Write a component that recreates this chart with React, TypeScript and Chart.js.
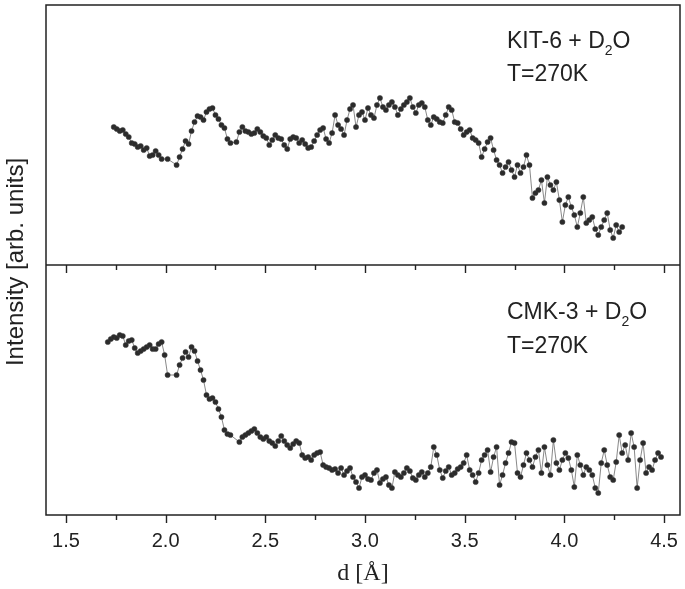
import React, { useEffect, useRef } from "react";
import { Chart, registerables } from "chart.js";

Chart.register(...registerables);

// x-axis: d [Å]
const X_MIN = 1.4;
const X_MAX = 4.58;
const X_TICK_STEP = 0.25;

// KIT-6 + D2O (top panel), sampled from d = 1.740 in steps of 0.015 Å
const KIT_START = 1.74;
const KIT_STEP = 0.015;
const kitValues: (number | null)[] = [
  138, 136, 134, 135, 131, 128, 122, 121, 118, 119,
  115, 117, 109, 110, 114, 110, 106, null, 106, null,
  null, 100, 108, 116, 124, 121, 134, 143, 149, 148,
  145, 153, 156, 157, 150, 146, 140, 137, 126, 122,
  null, 123, 133, 138, 134, 133, 131, 132, 136, 133,
  129, 127, 120, 125, 130, 127, 126, 120, 116, 126,
  128, 127, 122, 125, 121, 117, 118, 124, 130, 135,
  137, 126, 122, 132, 150, 140, 136, 130, 145, 156,
  160, 138, 150, 153, 145, 157, 150, 147, 160, 167,
  158, 155, 160, 163, 158, 150, 156, 160, 163, 167,
  158, 152, 160, 162, 158, 145, 140, 148, 146, 143,
  142, 150, 158, 155, 143, 142, 136, 130, 133, 135,
  127, 125, 122, 108, 116, 123, 127, 115, 105, 100,
  92, 98, 103, 95, 88, 100, 92, 98, 110, 100,
  67, 72, 75, 85, 62, 88, 80, 75, 83, 65,
  43, 60, 68, 58, 50, 38, 52, 68, 42, 45,
  48, 36, 30, 38, 45, 52, 35, 27, 40, 33,
  38,
];

// CMK-3 + D2O (bottom panel), sampled from d = 1.710 in steps of 0.015 Å
const CMK_START = 1.71;
const CMK_STEP = 0.015;
const cmkValues: (number | null)[] = [
  173, 176, 178, 177, 180, 179, 170, 174, 175, 167,
  162, 164, 166, 168, 170, 166, 166, 171, 173, 160,
  140, null, null, 140, 150, 157, 163, 158, 168, 164,
  154, 145, 135, 120, 116, 117, 113, 106, 98, 85,
  81, 80, null, null, 73, 78, 80, 82, 84, 86,
  82, 78, 76, 78, 74, 72, 69, 74, 79, 74,
  70, 67, 71, 74, 72, 60, 57, 58, 55, 60,
  62, 63, 50, 48, 47, 45, 46, 42, 47, 40,
  44, 47, 38, 33, 27, 38, 40, 36, 35, 42,
  45, 32, 36, 38, 30, 27, 43, 40, 38, 42,
  47, 44, 37, 35, 40, 43, 38, 42, 48, 68,
  60, 45, 37, 44, 48, 40, 42, 46, 48, 52,
  60, 45, 40, 33, 42, 55, 60, 65, 43, 58,
  68, 30, 40, 52, 62, 73, 72, 42, 38, 50,
  62, 55, 48, 58, 65, 42, 68, 50, 40, 75,
  52, 45, 55, 62, 57, 45, 28, 60, 50, 40,
  48, 45, 40, 27, 22, 52, 65, 50, 38, 35,
  53, 80, 62, 70, 55, 82, 68, 27, 55, 72,
  42, 48, 45, 55, 62, 58,
];

const TOP_RANGE = [0, 260];
const BOTTOM_RANGE = [0, 250];

const topLabel = ["KIT-6 + D", "2", "O"];
const bottomLabel = ["CMK-3 + D", "2", "O"];
const tempLabel = "T=270K";
const xTitle = "d [Å]";
const yTitle = "Intensity [arb. units]";

const toPoints = (start: number, step: number, vals: (number | null)[]) =>
  vals.map((v, i) => ({ x: +(start + i * step).toFixed(4), y: v }));

const SANS = "'Liberation Sans', Arial, sans-serif";
const SERIF = "'Liberation Serif', 'Times New Roman', serif";
const INK = "#222";

const framePlugin = {
  id: "frame",
  afterDraw(chart: any) {
    const { ctx, chartArea } = chart;
    const xs = chart.scales.x;
    const yT = chart.scales.yT;
    const divY = yT.bottom;
    ctx.save();
    ctx.strokeStyle = INK;
    ctx.lineWidth = 1.5;
    ctx.strokeRect(chartArea.left, chartArea.top, chartArea.right - chartArea.left, chartArea.bottom - chartArea.top);
    ctx.beginPath();
    ctx.moveTo(chartArea.left, divY);
    ctx.lineTo(chartArea.right, divY);
    ctx.stroke();
    ctx.lineWidth = 1.4;
    for (const t of xs.ticks) {
      const px = Math.round(xs.getPixelForValue(t.value)) + 0.5;
      const major = Math.abs(t.value * 2 - Math.round(t.value * 2)) < 1e-6;
      const len = major ? 8 : 5;
      ctx.beginPath();
      ctx.moveTo(px, chartArea.bottom);
      ctx.lineTo(px, chartArea.bottom + len);
      ctx.moveTo(px, divY);
      ctx.lineTo(px, divY + len);
      ctx.stroke();
    }
    // annotations
    const drawLabel = (parts: string[], x: number, y: number) => {
      ctx.fillStyle = INK;
      ctx.textBaseline = "alphabetic";
      ctx.textAlign = "left";
      ctx.font = `23px ${SANS}`;
      ctx.fillText(parts[0], x, y);
      let cx = x + ctx.measureText(parts[0]).width;
      ctx.font = `14px ${SANS}`;
      ctx.fillText(parts[1], cx, y + 7);
      cx += ctx.measureText(parts[1]).width;
      ctx.font = `23px ${SANS}`;
      ctx.fillText(parts[2], cx, y);
    };
    const tx = chartArea.right - 173;
    drawLabel(topLabel, tx, chartArea.top + 43);
    ctx.font = `23px ${SANS}`;
    ctx.fillText(tempLabel, tx, chartArea.top + 76);
    drawLabel(bottomLabel, tx, divY + 54);
    ctx.font = `23px ${SANS}`;
    ctx.fillText(tempLabel, tx, divY + 88);
    // y title
    ctx.save();
    ctx.translate(16, (chartArea.top + chartArea.bottom) / 2 + 2);
    ctx.rotate(-Math.PI / 2);
    ctx.textAlign = "center";
    ctx.textBaseline = "middle";
    ctx.font = `24px ${SANS}`;
    ctx.fillStyle = INK;
    ctx.fillText(yTitle, 0, 0);
    ctx.restore();
    ctx.restore();
  },
};

export default function App() {
  const ref = useRef<HTMLCanvasElement | null>(null);
  useEffect(() => {
    if (!ref.current) return;
    const common = {
      showLine: true,
      spanGaps: true,
      borderColor: "#6a6a6a",
      borderWidth: 0.8,
      pointRadius: 2.6,
      pointBackgroundColor: "#2b2b2b",
      pointBorderColor: "#3a3a3a",
      pointBorderWidth: 0.5,
      tension: 0,
    };
    const chart = new Chart(ref.current, {
      type: "scatter",
      data: {
        datasets: [
          { label: "KIT-6 + D2O", data: toPoints(KIT_START, KIT_STEP, kitValues), yAxisID: "yT", ...common },
          { label: "CMK-3 + D2O", data: toPoints(CMK_START, CMK_STEP, cmkValues), yAxisID: "yB", ...common },
        ],
      },
      options: {
        responsive: false,
        animation: false,
        layout: { padding: { left: 46, right: 5, top: 5, bottom: 0 } },
        plugins: { legend: { display: false }, tooltip: { enabled: false } },
        scales: {
          x: {
            type: "linear",
            min: X_MIN,
            max: X_MAX,
            afterFit: (s: any) => { s.height = 74; },
            ticks: {
              stepSize: X_TICK_STEP,
              includeBounds: false,
              autoSkip: false,
              maxRotation: 0,
              padding: 6,
              color: INK,
              font: { family: SANS, size: 20 },
              callback: (v: any) => {
                const n = Number(v);
                return Math.abs(n * 2 - Math.round(n * 2)) < 1e-6 ? n.toFixed(1) : "";
              },
            },
            grid: { display: true, drawOnChartArea: false, drawTicks: true, tickLength: 8, tickColor: "rgba(0,0,0,0)" },
            border: { display: false },
            title: { display: true, text: xTitle, color: INK, font: { family: SERIF, size: 24 }, padding: { top: 0, bottom: 1 } },
          },
          yB: {
            type: "linear",
            position: "left",
            stack: "panels",
            stackWeight: BOTTOM_RANGE[1] - BOTTOM_RANGE[0],
            weight: 0,
            min: BOTTOM_RANGE[0],
            max: BOTTOM_RANGE[1],
            afterFit: (s: any) => { s.width = 0; },
            ticks: { display: false },
            grid: { display: false, drawTicks: false },
            border: { display: false },
          },
          yT: {
            type: "linear",
            position: "left",
            stack: "panels",
            stackWeight: TOP_RANGE[1] - TOP_RANGE[0],
            weight: 1,
            min: TOP_RANGE[0],
            max: TOP_RANGE[1],
            afterFit: (s: any) => { s.width = 0; },
            ticks: { display: false },
            grid: { display: false, drawTicks: false },
            border: { display: false },
          },
        },
      } as any,
      plugins: [framePlugin],
    });
    return () => chart.destroy();
  }, []);
  return (
    <div style={{ position: "absolute", left: 0, top: 0, width: 685, height: 589, background: "#fff" }}>
      <canvas ref={ref} width={685} height={589} />
    </div>
  );
}
